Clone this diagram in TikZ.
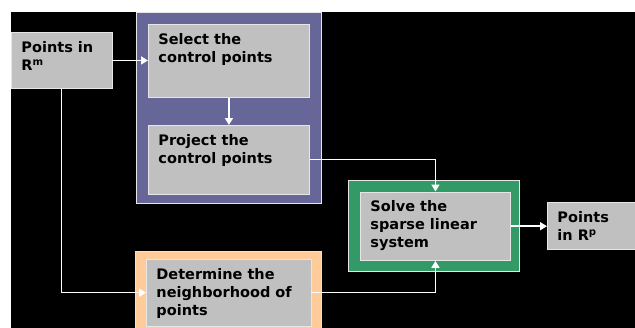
\documentclass[tikz,border=0pt]{standalone}
\usepackage{fontspec}
\setmainfont{DejaVu Sans}
\usetikzlibrary{arrows.meta}
\definecolor{boxgray}{HTML}{C0C0C0}
\definecolor{edgegray}{HTML}{E6E6E6}
\definecolor{panelpurple}{HTML}{666699}
\definecolor{panelgreen}{HTML}{339966}
\definecolor{panelorange}{HTML}{FFCC99}
% text block inside a process box: 10pt left padding, top aligned
\newcommand{\boxtxt}[3]{\parbox[c][\dimexpr #2pt-18pt\relax][t]{\dimexpr #1pt-20pt\relax}{\raggedright #3}}
\tikzset{
  procbox/.style={draw=edgegray, line width=0.9pt, fill=boxgray, anchor=north west,
    inner sep=0pt, text=black, font=\bfseries\fontsize{14.5}{18}\selectfont},
  panel/.style={draw=edgegray, line width=0.9pt},
  flow/.style={draw=white, line width=1.5pt, -{Triangle[width=8pt,length=7pt]}},
}
\begin{document}
\begin{tikzpicture}[x=1pt,y=-1pt]
  \useasboundingbox (0,0) rectangle (635,327);
  \clip (0,0) rectangle (635,327);
  % page background
  \fill[white] (0,0) rectangle (635,327);
  \fill[black] (11,12) rectangle (640,330);
  % coloured panels behind the steps
  \draw[panel, fill=panelpurple] (136,12) rectangle (321.5,203);
  \draw[panel, fill=panelgreen] (348,180) rectangle (519,271.5);
  \draw[panel, fill=panelorange] (135,251.5) rectangle (321.5,340);
  % process boxes
  \node[procbox, minimum width=100.5pt, minimum height=56pt] (pin) at (11,32)
    {\boxtxt{100.5}{56}{Points in\\R\textsuperscript{m}}};
  \node[procbox, minimum width=161pt, minimum height=73pt] (select) at (148,24)
    {\boxtxt{161}{73}{Select the\\control points}};
  \node[procbox, minimum width=161pt, minimum height=68.5pt] (project) at (148,125)
    {\boxtxt{161}{68.5}{Project the\\control points}};
  \node[procbox, minimum width=164.5pt, minimum height=66.5pt] (determine) at (146,259)
    {\boxtxt{164.5}{66.5}{Determine the\\neighborhood of\\points}};
  \node[procbox, minimum width=150pt, minimum height=68.5pt] (solve) at (360,191.5)
    {\boxtxt{150}{68.5}{Solve the\\sparse linear\\system}};
  \node[procbox, minimum width=100pt, minimum height=47pt] (pout) at (547,202)
    {\boxtxt{100}{47}{Points\\in R\textsuperscript{p}}};
  % connectors
  \draw[flow] (pin.east) -- (pin.east -| select.west);
  \draw[flow] (select.south) -- (project.north);
  \draw[flow] (project.east) -| (solve.north);
  \draw[flow] (determine.east) -| (solve.south);
  \draw[flow] (pin.south) |- (determine.west);
  \draw[flow] (solve.east) -- (solve.east -| pout.west);
\end{tikzpicture}
\end{document}
